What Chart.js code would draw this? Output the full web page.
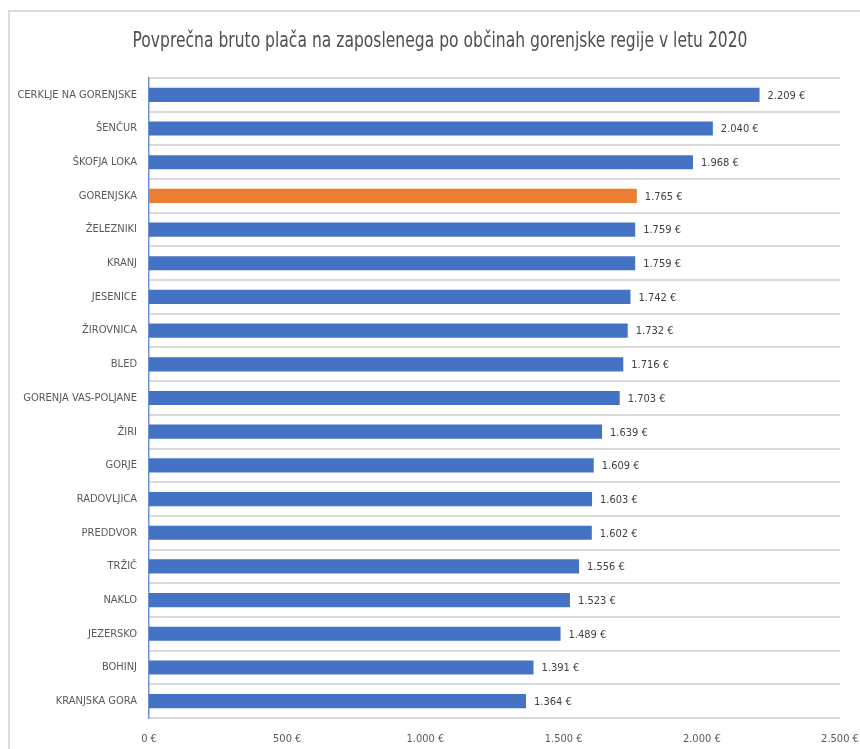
<!DOCTYPE html>
<html>
<head>
<meta charset="utf-8">
<script src="https://cdn.jsdelivr.net/npm/chart.js@4/dist/chart.umd.min.js"></script>
<style>
    body { margin: 0; background: #fff; }
    #wrap { position: relative; width: 860px; height: 749px; }
    #frame { position: absolute; left: 8px; top: 10px; right: -2px; bottom: -2px; border-top: 2px solid #dcdcdc; border-left: 2px solid #dcdcdc; pointer-events: none; }
</style>
</head>
<body>
<div id="wrap">
    <canvas id="graph"></canvas>
    <div id="frame"></div>
</div>
<script>
// Données du graphique
const obcine = [
    'CERKLJE NA GORENJSKE', 'ŠENČUR', 'ŠKOFJA LOKA', 'GORENJSKA', 'ŽELEZNIKI',
    'KRANJ', 'JESENICE', 'ŽIROVNICA', 'BLED', 'GORENJA VAS-POLJANE',
    'ŽIRI', 'GORJE', 'RADOVLJICA', 'PREDDVOR', 'TRŽIČ',
    'NAKLO', 'JEZERSKO', 'BOHINJ', 'KRANJSKA GORA'
];
const place = [
    2209, 2040, 1968, 1765, 1759,
    1759, 1742, 1732, 1716, 1703,
    1639, 1609, 1603, 1602, 1556,
    1523, 1489, 1391, 1364
];
const ticksX = [0, 500, 1000, 1500, 2000, 2500];

const titre = 'Povprečna bruto plača na zaposlenega po občinah gorenjske regije v letu 2020';
const POUDAREK = 'GORENJSKA';
const police = '"DejaVu Sans Condensed", "DejaVu Sans", sans-serif';

function formatEur(v) {
    const s = String(Math.round(v));
    return s.replace(/\B(?=(\d{3})+(?!\d))/g, '.') + ' €';
}

// Titre dessiné à la main (police resserrée façon Calibri)
const titreResserre = {
    id: 'titreResserre',
    afterDraw(chart) {
        const ctx = chart.ctx;
        ctx.save();
        ctx.font = '20.5px ' + police;
        ctx.fillStyle = '#505050';
        ctx.textAlign = 'center';
        ctx.textBaseline = 'alphabetic';
        const largeur = ctx.measureText(titre).width;
        const echelle = 615 / largeur;
        ctx.translate(440, 47);
        ctx.scale(echelle, 1);
        ctx.fillText(titre, 0, 0);
        ctx.restore();
    }
};

// Étiquettes de valeur au bout des barres
const etiquettesValeurs = {
    id: 'etiquettesValeurs',
    afterDatasetsDraw(chart) {
        const ctx = chart.ctx;
        const meta = chart.getDatasetMeta(0);
        ctx.save();
        ctx.font = '11px ' + police;
        ctx.fillStyle = '#404040';
        ctx.textAlign = 'left';
        ctx.textBaseline = 'middle';
        meta.data.forEach((bar, i) => {
            ctx.fillText(formatEur(place[i]), bar.x + 8, bar.y + 1);
        });
        ctx.restore();
    }
};

const canvas = document.getElementById('graph');
canvas.width = 860;
canvas.height = 749;

new Chart(canvas.getContext('2d'), {
    type: 'bar',
    data: {
        labels: obcine,
        datasets: [{
            data: place,
            backgroundColor: obcine.map(o => o === POUDAREK ? '#ED7D31' : '#4472C4'),
            barPercentage: 0.42,
            categoryPercentage: 1
        }]
    },
    options: {
        indexAxis: 'y',
        responsive: false,
        animation: false,
        layout: { padding: { left: 0, right: 20, top: 78, bottom: 0 } },
        plugins: {
            legend: { display: false },
            tooltip: { enabled: false },
            title: { display: false }
        },
        scales: {
            x: {
                min: 0,
                max: 2500,
                afterBuildTicks: axis => { axis.ticks = ticksX.map(v => ({ value: v })); },
                afterFit: axis => {
                    axis.height = 31;
                    axis.paddingLeft = 0;
                    axis.paddingRight = 0;
                },
                grid: { display: false, drawTicks: false },
                border: { display: false },
                ticks: {
                    color: '#595959',
                    padding: 15,
                    maxRotation: 0,
                    font: { family: police, size: 11 },
                    callback: v => formatEur(v)
                }
            },
            y: {
                afterFit: axis => {
                    axis.width = 149;
                    axis.paddingTop = 0;
                    axis.paddingBottom = 0;
                },
                grid: { offset: true, color: '#d9d9d9', lineWidth: 2, drawTicks: false },
                border: { display: true, color: '#6f8fd6', width: 1.5 },
                ticks: {
                    color: '#595959',
                    padding: 12,
                    font: { family: police, size: 11 }
                }
            }
        }
    },
    plugins: [etiquettesValeurs, titreResserre]
});
</script>
</body>
</html>
